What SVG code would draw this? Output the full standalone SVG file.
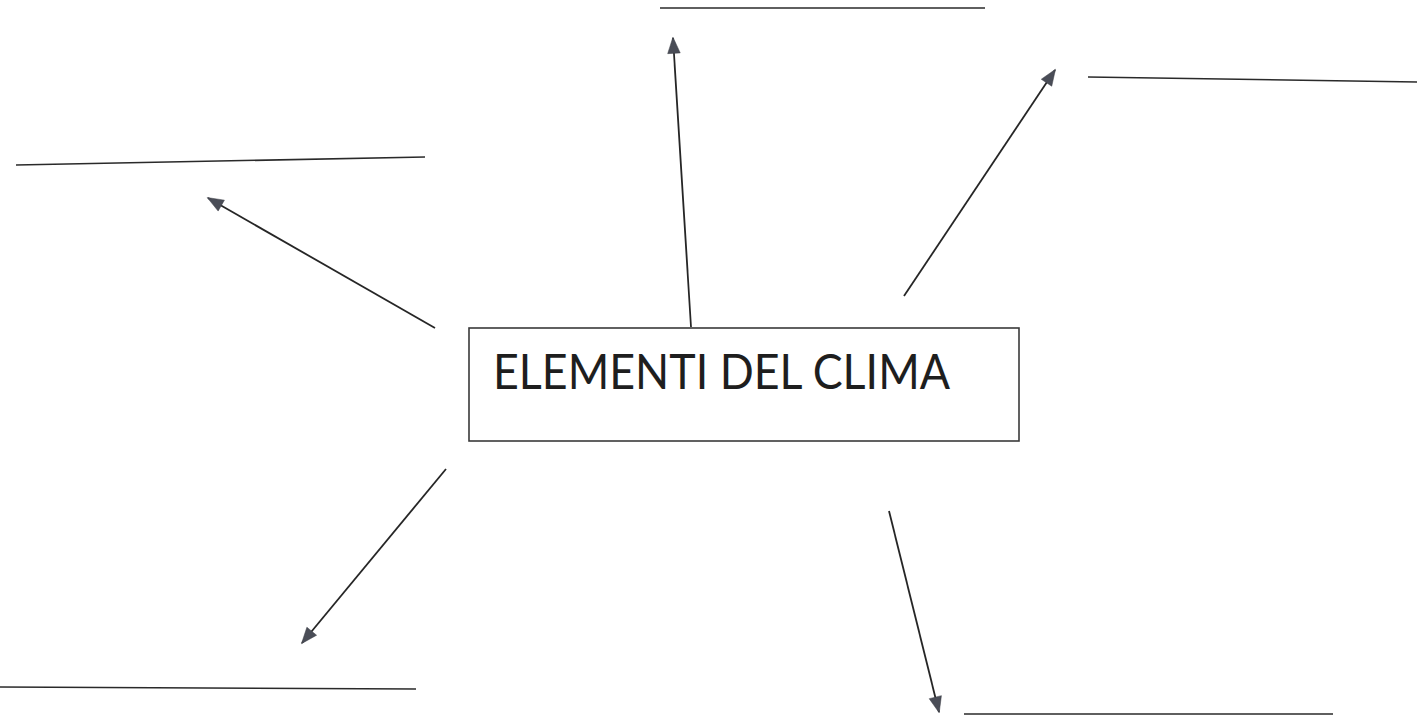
<svg xmlns="http://www.w3.org/2000/svg" width="1424" height="720" viewBox="0 0 1424 720">
<style>
.blank{stroke:#2a2a2a;stroke-width:1.6;fill:none}
.conn{stroke:#262626;stroke-width:1.8;fill:none;marker-end:url(#ah)}
.box{fill:#fff;stroke:#3a3a3a;stroke-width:1.6}
.lbl{font-family:Lato,"Open Sans",sans-serif;font-size:48px;fill:#1e1e1e}
</style>
<defs>
<marker id="ah" viewBox="0 0 10 10" refX="9" refY="5" markerWidth="9" markerHeight="9" markerUnits="userSpaceOnUse" orient="auto" overflow="visible">
<path d="M-8,-2 L10,5 L-8,12 Z" fill="#4a4d57" stroke="#3a3c44" stroke-width="0.5"/>
</marker>
</defs>
<rect width="1424" height="720" fill="#fff"/>
<g id="blanks">
<line class="blank" x1="660" y1="8" x2="985" y2="8"/>
<line class="blank" x1="1088" y1="77" x2="1417" y2="82"/>
<line class="blank" x1="16" y1="165" x2="425" y2="157"/>
<line class="blank" x1="0" y1="687" x2="416" y2="689"/>
<line class="blank" x1="964" y1="714" x2="1333" y2="714"/>
</g>
<g id="connectors">
<line class="conn" x1="691" y1="327" x2="673" y2="38"/>
<line class="conn" x1="904" y1="296" x2="1055" y2="70"/>
<line class="conn" x1="435" y1="328" x2="208" y2="198"/>
<line class="conn" x1="446" y1="469" x2="302" y2="643"/>
<line class="conn" x1="889" y1="511" x2="939" y2="712"/>
</g>
<g id="center">
<rect class="box" x="469" y="328" width="550" height="113"/>
<text class="lbl" x="493" y="389" textLength="457" lengthAdjust="spacingAndGlyphs">ELEMENTI DEL CLIMA</text>
</g>
</svg>
